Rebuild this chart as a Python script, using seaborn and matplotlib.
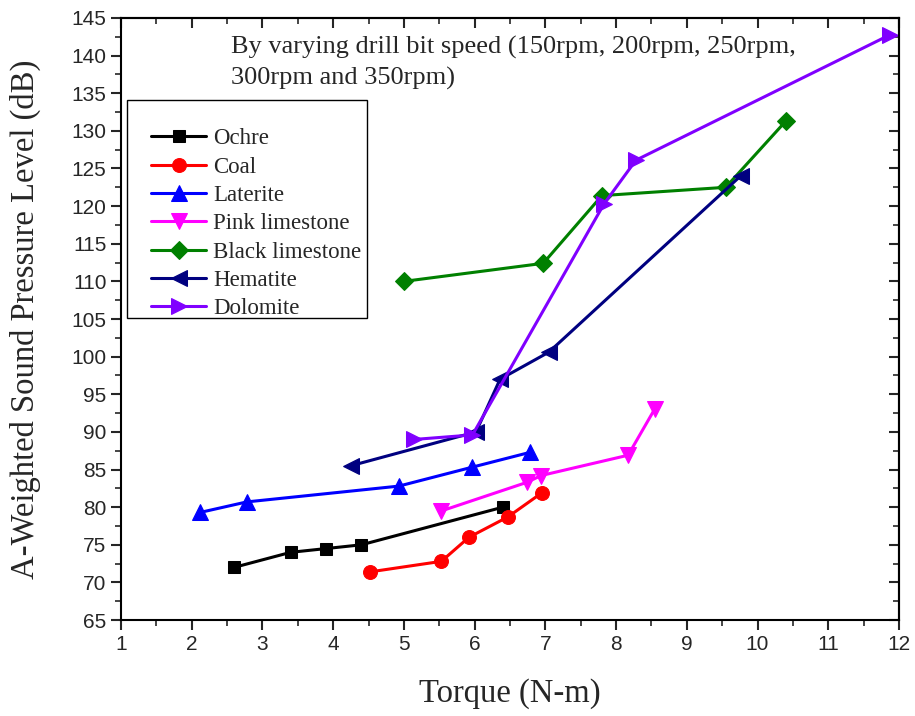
import matplotlib
matplotlib.use("Agg")
import matplotlib.pyplot as plt
import seaborn as sns
import pandas as pd
from matplotlib.ticker import MultipleLocator
from matplotlib.patches import Rectangle

sns.set_theme(style="ticks")
plt.rcParams['font.family'] = ['Liberation Serif', 'DejaVu Serif']

# ---- data ----
ochre_x = [2.6, 3.4, 3.9, 4.4, 6.4]
ochre_y = [72.0, 74.0, 74.5, 75.0, 80.0]
coal_x = [4.52, 5.53, 5.92, 6.47, 6.95]
coal_y = [71.4, 72.8, 76.0, 78.7, 81.9]
laterite_x = [2.12, 2.78, 4.93, 5.96, 6.79]
laterite_y = [79.3, 80.7, 82.8, 85.3, 87.3]
pink_x = [5.53, 6.74, 6.94, 8.17, 8.55]
pink_y = [79.5, 83.3, 84.2, 86.9, 93.1]
black_x = [5.0, 6.97, 7.8, 9.55, 10.4]
black_y = [110.0, 112.4, 121.4, 122.5, 131.3]
hema_x = [4.25, 6.02, 6.36, 7.05, 9.76]
hema_y = [85.5, 90.0, 97.0, 100.6, 124.0]
dolo_x = [5.15, 5.97, 7.83, 8.28, 11.88]
dolo_y = [89.0, 89.6, 120.3, 126.1, 142.8]

series_names = ["Ochre", "Coal", "Laterite", "Pink limestone",
                "Black limestone", "Hematite", "Dolomite"]
series_x = [ochre_x, coal_x, laterite_x, pink_x, black_x, hema_x, dolo_x]
series_y = [ochre_y, coal_y, laterite_y, pink_y, black_y, hema_y, dolo_y]
colors = ["#000000", "#FF0000", "#0000FF", "#FF00FF", "#008000", "#000080", "#8000FF"]
markers = ["s", "o", "^", "v", "D", "<", ">"]
msizes = [9, 10, 11, 11, 9, 11, 11]

x_ticks = list(range(1, 13))
y_ticks = list(range(65, 146, 5))

fig = plt.figure(figsize=(9.15, 7.16), dpi=100)
ax = fig.add_axes([0.1322, 0.134, 0.8503, 0.8409])

for name, xs, ys, c, m, ms in zip(series_names, series_x, series_y, colors, markers, msizes):
    df = pd.DataFrame({"x": xs, "y": ys})
    sns.lineplot(data=df, x="x", y="y", sort=False, color=c, marker=m,
                 markersize=ms, markeredgecolor=c, markerfacecolor=c,
                 linewidth=2.2, label=name, ax=ax)

ax.set_xlim(1, 12)
ax.set_ylim(65, 145)
ax.set_xticks(x_ticks)
ax.set_yticks(y_ticks)
ax.xaxis.set_minor_locator(MultipleLocator(0.5))
ax.yaxis.set_minor_locator(MultipleLocator(2.5))
ax.tick_params(axis='both', which='major', direction='out', length=7, width=1.5,
               labelsize=15, top=False, right=False)
ax.tick_params(axis='both', which='minor', direction='out', length=4, width=1.2)
for lab in ax.get_xticklabels() + ax.get_yticklabels():
    lab.set_fontfamily('Liberation Sans')

# inward ticks on top/right
ax2 = ax.secondary_yaxis('right')
ax2.set_yticks(y_ticks)
ax2.yaxis.set_minor_locator(MultipleLocator(2.5))
ax2.tick_params(which='major', direction='in', length=7, width=1.5, labelright=False)
ax2.tick_params(which='minor', direction='in', length=4, width=1.2)
ax3 = ax.secondary_xaxis('top')
ax3.set_xticks(x_ticks)
ax3.xaxis.set_minor_locator(MultipleLocator(0.5))
ax3.tick_params(which='major', direction='in', length=7, width=1.5, labeltop=False)
ax3.tick_params(which='minor', direction='in', length=4, width=1.2)
for a in (ax2, ax3):
    for sp in a.spines.values():
        sp.set_linewidth(1.5)

for sp in ax.spines.values():
    sp.set_linewidth(1.5)
    sp.set_color('black')

ax.set_xlabel("Torque (N-m)", fontsize=23.5, labelpad=18)
ax.set_ylabel("A-Weighted Sound Pressure Level (dB)", fontsize=23.5, labelpad=22)

ax.text(2.55, 142.6, "By varying drill bit speed (150rpm, 200rpm, 250rpm,\n300rpm and 350rpm)",
        fontsize=19, va='top', ha='left', linespacing=1.45)

# legend frame + legend
ax.add_patch(Rectangle((0.0077, 0.502), 0.308, 0.362, transform=ax.transAxes,
                       fill=True, facecolor='white', edgecolor='black',
                       linewidth=1.0, zorder=4))
leg = ax.legend(loc='upper left', bbox_to_anchor=(0.039, 0.817), fontsize=16.5,
                frameon=False, borderpad=0, borderaxespad=0,
                handlelength=2.4, labelspacing=0.32, handletextpad=0.3)
leg.set_zorder(5)

fig.savefig("out.png", dpi=100)
